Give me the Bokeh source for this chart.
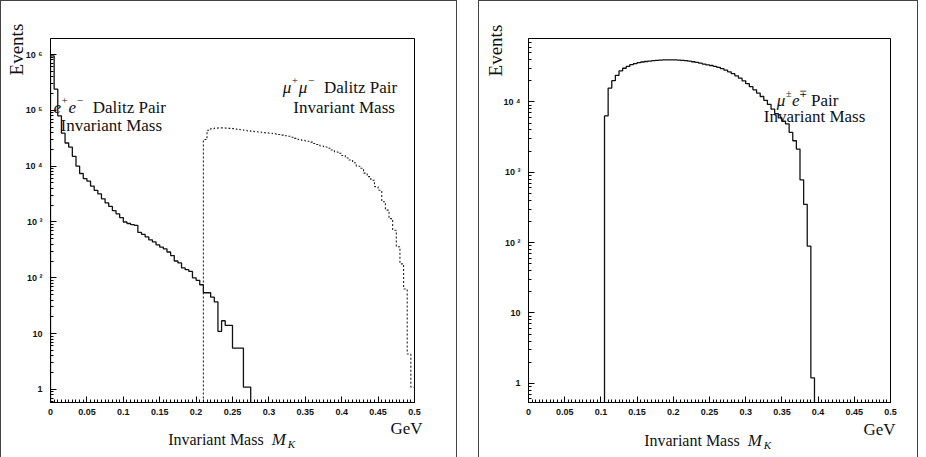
import math
from bokeh.plotting import figure
from bokeh.models import Label, SingleIntervalTicker, LogTicker, CustomJSTickFormatter, Range1d
from bokeh.layouts import row
from bokeh.embed import file_html
from bokeh.resources import INLINE

# ---------------- data ----------------
BIN_WIDTH = 0.005

# e+e- Dalitz pair invariant mass (solid), bins starting at 0.000 GeV
EE_START = 0.0
ee_values = [9.5e5, 2.4e5, 8.0e4, 3.9e4, 2.6e4, 2.2e4, 1.5e4, 1.0e4, 7.4e3, 6.0e3,
             5.4e3, 4.4e3, 3.7e3, 3.2e3, 2.6e3, 2.2e3, 1.9e3, 1.6e3, 1.4e3, 1.2e3,
             1.0e3, 940, 900, 870, 650, 600, 540, 480, 440, 390,
             355, 330, 290, 250, 200, 185, 150, 140, 130, 100,
             90, 75, 54, 54, 45, 37, 11, 17, 14, 14,
             5.5, 5.5, 5.5, 1.1, 1.1]

# mu+mu- Dalitz pair invariant mass (dashed), bins starting at 0.210 GeV
MUMU_START = 0.21
mumu_values = [30000, 44000, 47000, 48000, 48500, 48500, 48000, 47500, 47000, 46000,
               45000, 44000, 43000, 42000, 41500, 41000, 40000, 39500, 39000, 38000,
               37000, 36000, 35000, 34300, 33000, 31500, 30000, 29000, 28000, 27000,
               25500, 24500, 23000, 22000, 21000, 19500, 18000, 17000, 15500, 14000,
               12900, 11500, 10000, 9200, 7500, 6500, 5600, 4300, 3700, 2300,
               1630, 1150, 710, 360, 178, 63, 4.3, 1.1]

# mu e pair invariant mass (right panel), bins starting at 0.105 GeV
MUE_START = 0.105
mue_values = [6300, 15700, 20000, 23800, 27500, 30000, 32000, 33800, 35000, 36000,
              36800, 37400, 38000, 38500, 38900, 39200, 39400, 39500, 39500, 39400,
              39200, 38900, 38400, 37800, 37100, 36300, 35400, 34400, 33500, 32800,
              32000, 30900, 29600, 28200, 26700, 25100, 23400, 21700, 19900, 18100,
              16400, 14800, 13300, 11900, 10500, 9200, 7900, 6800, 5900, 5300,
              4850, 3690, 2800, 2130, 780, 350, 89, 1.2]

X_MIN, X_MAX = 0.0, 0.5
X_TICK_STEP = 0.05
LEFT_Y = (0.583, 1.94e6)
RIGHT_Y = (0.535, 7.94e4)


def step_xy(start, values, floor):
    xs, ys = [start], [floor]
    for i, v in enumerate(values):
        x0 = start + i * BIN_WIDTH
        x1 = x0 + BIN_WIDTH
        xs += [x0, x1]
        ys += [v, v]
    xs.append(start + len(values) * BIN_WIDTH)
    ys.append(floor)
    return xs, ys


X_FMT = CustomJSTickFormatter(code="""
let s = tick.toFixed(3);
s = s.replace(/0+$/, '').replace(/\\.$/, '');
return s;
""")

Y_FMT = CustomJSTickFormatter(code="""
const e = Math.round(Math.log10(tick));
if (e == 0) return '1';
if (e == 1) return '10';
const sup = {2: '\u00b2', 3: '\u00b3', 4: '\u2074', 5: '\u2075', 6: '\u2076', 7: '\u2077'};
return '10 ' + sup[e];
""")

SERIF = "Liberation Serif"
FW1, FH1 = 362, 362
FW2, FH2 = 360, 362


def make_fig(yr, mb_l, mb_r, mb_t, mb_b, fw, fh):
    p = figure(frame_width=fw, frame_height=fh,
               x_range=Range1d(X_MIN, X_MAX), y_range=Range1d(*yr),
               y_axis_type="log", output_backend="svg", toolbar_location=None,
               min_border_left=mb_l, min_border_right=mb_r,
               min_border_top=mb_t, min_border_bottom=mb_b)
    p.xgrid.visible = False
    p.ygrid.visible = False
    p.outline_line_color = "black"
    p.outline_line_width = 1
    p.background_fill_color = "white"
    p.border_fill_color = "white"
    p.xaxis.ticker = SingleIntervalTicker(interval=X_TICK_STEP, num_minor_ticks=10)
    p.xaxis.formatter = X_FMT
    p.yaxis.ticker = LogTicker(num_minor_ticks=10)
    p.yaxis.formatter = Y_FMT
    for ax in (p.xaxis[0], p.yaxis[0]):
        ax.major_tick_in = 6
        ax.major_tick_out = 0
        ax.minor_tick_in = 3
        ax.minor_tick_out = 0
        ax.major_tick_line_color = "black"
        ax.minor_tick_line_color = "black"
        ax.axis_line_color = "black"
        ax.major_label_text_font = "Liberation Sans"
        ax.major_label_text_font_style = "bold"
        ax.major_label_text_font_size = "9px"
        ax.major_label_text_color = "#111"
    p.yaxis.major_label_standoff = 8
    p.xaxis.major_label_standoff = 6
    # outer box round each panel
    p.styles = {"border": "1px solid #444"}
    return p


class Panel:
    """Converts page pixel positions of texts into data coordinates."""
    def __init__(self, p, fl, fb, fw, fh, yr):
        self.p, self.fl, self.fb, self.fw, self.fh = p, fl, fb, fw, fh
        self.ly0, self.ly1 = math.log10(yr[0]), math.log10(yr[1])

    def xy(self, X, Y):
        x = X_MIN + (X - self.fl) / self.fw * (X_MAX - X_MIN)
        ly = self.ly0 + (self.fb - Y) / self.fh * (self.ly1 - self.ly0)
        return x, 10 ** ly

    def put(self, X, Y, text, size="17px", style="normal", align="left",
            baseline="alphabetic", angle=0.0, side=None):
        x, y = self.xy(X, Y)
        lab = Label(x=x, y=y, text=text, text_font=SERIF, text_font_size=size,
                    text_font_style=style, text_align=align,
                    text_baseline=baseline, angle=angle, text_color="#111")
        if side is None:
            self.p.add_layout(lab)
        else:
            self.p.add_layout(lab, side)


# ---------------- left panel ----------------
p1 = make_fig(LEFT_Y, 44, 44, 37, 46, FW1, FH1)
xs, ys = step_xy(EE_START, ee_values, LEFT_Y[0])
p1.line(xs, ys, line_color="#111", line_width=1.3)
xs, ys = step_xy(MUMU_START, mumu_values, LEFT_Y[0])
p1.line(xs, ys, line_color="#222", line_width=1.1, line_dash="2 2")

L = Panel(p1, 53, 408, FW1, FH1, LEFT_Y)
L.put(19, 57, "Events", size="19px", align="center", baseline="middle", angle=math.pi / 2, side="left")
L.put(170, 445, "Invariant Mass", size="16px", side="below")
L.put(273, 445, "M", style="italic", side="below")
L.put(289, 449, "K", size="11px", style="italic", side="below")
L.put(407, 434, "GeV", align="center", side="below")
# e+e- label
L.put(56, 115, "e", style="italic")
L.put(64, 108, "+", size="11px")
L.put(71, 115, "e", style="italic")
L.put(79, 108, "\u2212", size="11px")
L.put(95, 115, "Dalitz Pair")
L.put(63, 133, "Invariant Mass")
# mu+mu- label
L.put(284, 95, "\u03bc", style="italic")
L.put(293, 88, "+", size="11px")
L.put(300, 95, "\u03bc", style="italic")
L.put(309, 88, "\u2212", size="11px")
L.put(325, 95, "Dalitz Pair")
L.put(345, 115, "Invariant Mass", align="center")

# ---------------- right panel ----------------
p2 = make_fig(RIGHT_Y, 45, 29, 36, 47, FW2, FH2)
xs, ys = step_xy(MUE_START, mue_values, RIGHT_Y[0])
p2.line(xs, ys, line_color="#111", line_width=1.3)

R = Panel(p2, 528, 407, FW2, FH2, RIGHT_Y)
R.put(495, 57, "Events", size="19px", align="center", baseline="middle", angle=math.pi / 2, side="left")
R.put(643, 445, "Invariant Mass", size="16px", side="below")
R.put(746, 445, "M", style="italic", side="below")
R.put(762, 449, "K", size="11px", style="italic", side="below")
R.put(877, 434, "GeV", align="center", side="below")
R.put(775, 107, "\u03bc", style="italic")
R.put(784, 100, "\u00b1", size="10px")
R.put(790, 107, "e", style="italic")
R.put(797, 100, "\u2213", size="10px")
R.put(809, 107, "Pair")
R.put(762, 123, "Invariant Mass")

layout = row(p1, p2, spacing=21)
open("out.html", "w").write(file_html(layout, INLINE))
